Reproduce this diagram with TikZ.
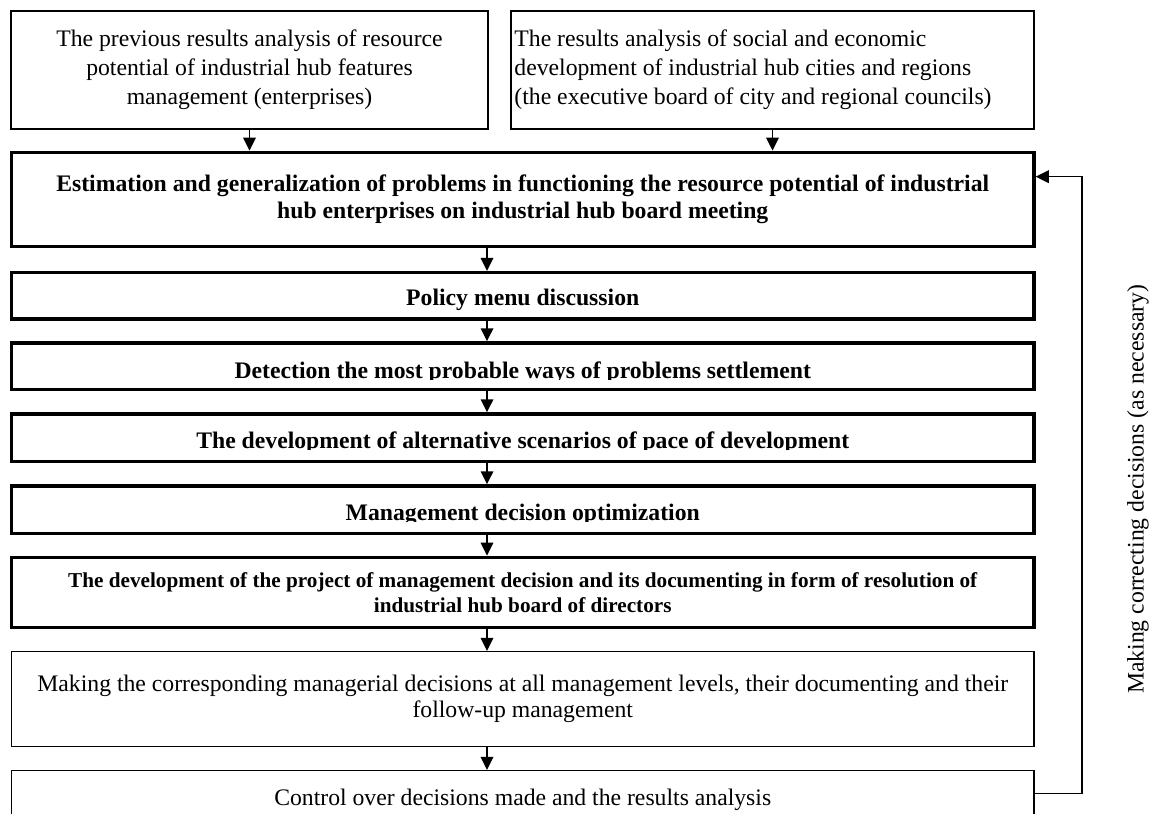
\documentclass[tikz,border=0pt]{standalone}
\usepackage{fontspec}
\setmainfont{Liberation Serif}
\usetikzlibrary{arrows.meta,calc}
\tikzset{
  thinbox/.style={draw, rectangle, line width=1.5pt, inner sep=4pt, align=center,
    font=\fontsize{23.7}{29}\selectfont},
  thickbox/.style={draw, rectangle, line width=3.5pt, inner sep=4pt, align=center,
    font=\fontsize{23.7}{26.7}\selectfont\bfseries},
  boldtext/.style={inner sep=0pt, anchor=base, font=\fontsize{23.7}{26.7}\selectfont\bfseries},
  plaintext/.style={inner sep=0pt, font=\fontsize{23.7}{29}\selectfont},
  mask/.style={fill=white},
  arr/.style={line width=1.5pt, -{Triangle[width=12.6pt,length=13pt]}},
  sidelabel/.style={rotate=90, font=\fontsize{23.7}{28}\selectfont, inner sep=0pt},
}
\begin{document}
\begin{tikzpicture}[x=1pt,y=1pt]
\useasboundingbox (0,0) rectangle (1157,-814);

% top boxes
\node[thinbox, minimum width=477, minimum height=118] (L) at (249.5,-70)
  {The previous results analysis of resource\\potential of industrial hub features\\management (enterprises)};
\node[thinbox, minimum width=523, minimum height=118] (R) at (772.5,-70) {};
\node[plaintext, anchor=west, align=left] (Rt) at ([xshift=4pt]R.west)
  {The results analysis of social and economic\\development of industrial hub cities and regions\\(the executive board of city and regional councils)};

% main chain
\node[thickbox, minimum width=1022.5, minimum height=94.4] (E) at (522.75,-199.5)
  {Estimation and generalization of problems in functioning the resource potential of industrial\\hub enterprises on industrial hub board meeting};
\node[thickbox, minimum width=1022.5, minimum height=46.3] (P) at (522.75,-295.85) {};
\node[boldtext] (Pt) at (P.center |- 0,-305) {Policy menu discussion};
\node[thickbox, minimum width=1022.5, minimum height=46.7] (D) at (522.75,-366.35) {};
\node[boldtext] (Dt) at (D.center |- 0,-378.3) {Detection the most probable ways of problems settlement};
\node[thickbox, minimum width=1022.5, minimum height=47.7] (A) at (522.75,-437.85) {};
\node[boldtext] (At) at (A.center |- 0,-448.3) {The development of alternative scenarios of pace of development};
\node[thickbox, minimum width=1022.5, minimum height=47.3] (M) at (522.75,-509.65) {};
\node[boldtext] (Mt) at (M.center |- 0,-520.7) {Management decision optimization};
\node[thickbox, minimum width=1022.5, minimum height=70.4,
  font=\fontsize{21.2}{25}\selectfont\bfseries] (V) at (522.75,-592.5)
  {The development of the project of management decision and its documenting in form of resolution of\\industrial hub board of directors};
\node[thinbox, minimum width=1022.5, minimum height=95,
  font=\fontsize{23.7}{26}\selectfont] (K) at (522.75,-699.2)
  {Making the corresponding managerial decisions at all management levels, their documenting and their\\follow-up management};
\node[thinbox, minimum width=1022.5, minimum height=45.2] (C) at (522.75,-793.3) {};
\node[plaintext, anchor=base] (Ct) at (C.center |- 0,-805) {Control over decisions made and the results analysis};

% clipped descenders, as in the reference (kept inside the borders)
\fill[mask] ([xshift=3.8pt,yshift=3.8pt]D.south west) rectangle ([xshift=-3.8pt]D.east |- 0,-380);
\fill[mask] ([xshift=3.8pt,yshift=3.8pt]A.south west) rectangle ([xshift=-3.8pt]A.east |- 0,-450);
\fill[mask] ([xshift=3.8pt,yshift=3.8pt]M.south west) rectangle ([xshift=-3.8pt]M.east |- 0,-521.7);

% side label
\node[sidelabel] (T) at (1138,-489.3) {Making correcting decisions (as necessary)};

% connectors
\coordinate (ax) at (487,0);
\coordinate (fbx) at (1082,0);
\draw[arr] (L.south) -- (E.north -| L.south);
\draw[arr] (R.south) -- (E.north -| R.south);
\draw[arr] (E.south -| ax) -- (P.north -| ax);
\draw[arr] (P.south -| ax) -- (D.north -| ax);
\draw[arr] (D.south -| ax) -- (A.north -| ax);
\draw[arr] (A.south -| ax) -- (M.north -| ax);
\draw[arr] (M.south -| ax) -- (V.north -| ax);
\draw[arr] (V.south -| ax) -- (K.north -| ax);
\draw[arr] (K.south -| ax) -- (C.north -| ax);
\draw[arr] (C.east) -- (C.east -| fbx) |- ([yshift=22.8pt]E.east);
\end{tikzpicture}
\end{document}
